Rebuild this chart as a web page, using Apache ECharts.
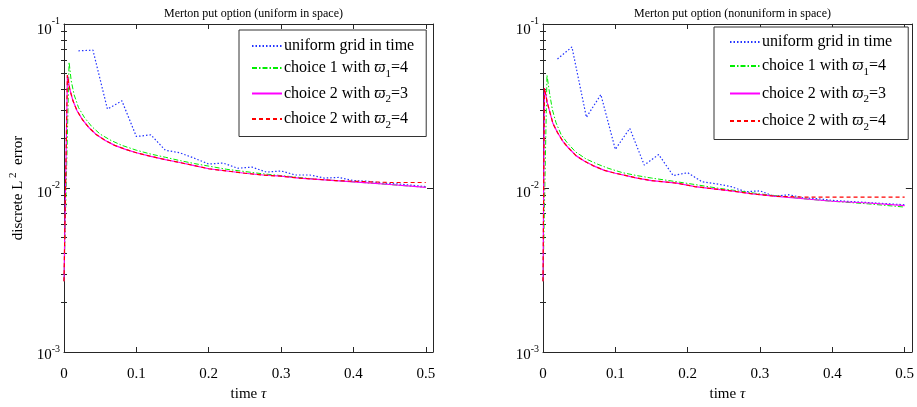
<!DOCTYPE html>
<html><head><meta charset="utf-8">
<script src="https://cdn.jsdelivr.net/npm/echarts@6/dist/echarts.min.js"></script>
<style>html,body{margin:0;padding:0;background:#fff}#c{width:917px;height:407px}</style>
</head><body><div id="c"></div>
<script>
// ---- data (tau, error) ----
const xTicks = [0, 0.1, 0.2, 0.3, 0.4, 0.5];
const yMajor = [0.001, 0.01, 0.1];
const yMinor = [0.002,0.003,0.004,0.005,0.006,0.007,0.008,0.009,0.02,0.03,0.04,0.05,0.06,0.07,0.08,0.09];
const seriesNames = ['uniform grid in time', 'choice 1 with ϖ1=4', 'choice 2 with ϖ2=3', 'choice 2 with ϖ2=4 '];
const titles = ['Merton put option (uniform in space)', 'Merton put option (nonuniform in space)'];

const uniformT = [0.02,0.04,0.06,0.08,0.10,0.12,0.14,0.16,0.18,0.20,0.22,0.24,0.26,0.28,0.30,0.32,0.34,0.36,0.38,0.40,0.42,0.44,0.46,0.48,0.50];
const leftBlue = [0.0686,0.0693,0.0303,0.0340,0.0206,0.0211,0.0170,0.0164,0.0152,0.0140,0.0142,0.0132,0.0134,0.0125,0.0127,0.0120,0.0120,0.0115,0.0116,0.0111,0.0110,0.0107,0.0106,0.0104,0.0102];
const rightBlue = [0.0612,0.0724,0.0270,0.0371,0.0172,0.0231,0.0138,0.0160,0.0119,0.0124,0.0109,0.0106,0.0102,0.0095,0.0096,0.0089,0.0091,0.0087,0.0086,0.0084,0.0083,0.0082,0.0081,0.0080,0.0079];

const leftGreen = [[0,0.0027],[0.007,0.0585],[0.010,0.045],[0.014,0.037],[0.020,0.031],[0.028,0.027],[0.038,0.0238],[0.050,0.0213],[0.065,0.0195],[0.080,0.0182],[0.100,0.0170],[0.120,0.0161],[0.140,0.0154],[0.160,0.0147],[0.180,0.0141],[0.200,0.0136],[0.225,0.0130],[0.250,0.0126],[0.275,0.0122],[0.300,0.0119],[0.325,0.0116],[0.350,0.0113],[0.375,0.0111],[0.400,0.0109],[0.450,0.0105],[0.500,0.0101]];
const leftMagenta = [[0,0.0027],[0.0047,0.0488],[0.008,0.040],[0.0124,0.034],[0.018,0.0296],[0.026,0.0259],[0.035,0.0232],[0.045,0.0211],[0.057,0.0195],[0.070,0.0182],[0.085,0.0172],[0.100,0.0164],[0.120,0.0156],[0.140,0.0149],[0.160,0.0143],[0.180,0.0137],[0.200,0.0131],[0.225,0.0127],[0.250,0.0123],[0.275,0.0120],[0.300,0.0118],[0.325,0.0115],[0.350,0.0113],[0.375,0.0111],[0.400,0.0109],[0.425,0.0107],[0.450,0.0105],[0.475,0.0103],[0.500,0.0101]];
const leftRed = [[0,0.0027],[0.0047,0.0488],[0.008,0.040],[0.0124,0.034],[0.018,0.0296],[0.026,0.0259],[0.035,0.0232],[0.045,0.0211],[0.057,0.0195],[0.070,0.0182],[0.085,0.0172],[0.100,0.0164],[0.120,0.0156],[0.140,0.0149],[0.160,0.0143],[0.180,0.0137],[0.200,0.0131],[0.225,0.0127],[0.250,0.0123],[0.275,0.0120],[0.300,0.0118],[0.325,0.0115],[0.350,0.0113],[0.375,0.0111],[0.400,0.0110],[0.425,0.0109],[0.450,0.0108],[0.475,0.0108],[0.500,0.0108]];

const rightGreen = [[0,0.0027],[0.0055,0.0488],[0.009,0.038],[0.013,0.030],[0.018,0.025],[0.025,0.0212],[0.033,0.0190],[0.045,0.0166],[0.060,0.0150],[0.075,0.0140],[0.090,0.0132],[0.110,0.0124],[0.130,0.0119],[0.150,0.0115],[0.180,0.0110],[0.210,0.0105],[0.240,0.0100],[0.270,0.0096],[0.300,0.0092],[0.330,0.0089],[0.360,0.0086],[0.400,0.0083],[0.450,0.0080],[0.500,0.00765]];
const rightMagenta = [[0,0.0027],[0.002,0.0407],[0.006,0.033],[0.0138,0.0247],[0.020,0.0218],[0.0277,0.0192],[0.035,0.0176],[0.046,0.0157],[0.057,0.0146],[0.069,0.0137],[0.085,0.0128],[0.100,0.0123],[0.115,0.0119],[0.130,0.0115],[0.150,0.0111],[0.185,0.0107],[0.210,0.0102],[0.230,0.00996],[0.260,0.0096],[0.290,0.0092],[0.323,0.0089],[0.360,0.0086],[0.400,0.0083],[0.450,0.0081],[0.500,0.0078]];
const rightRed = [[0,0.0027],[0.002,0.0407],[0.006,0.033],[0.0138,0.0247],[0.020,0.0218],[0.0277,0.0192],[0.035,0.0176],[0.046,0.0157],[0.057,0.0146],[0.069,0.0137],[0.085,0.0128],[0.100,0.0123],[0.115,0.0119],[0.130,0.0115],[0.150,0.0111],[0.185,0.0107],[0.210,0.0102],[0.230,0.00996],[0.260,0.0096],[0.290,0.0092],[0.323,0.0089],[0.360,0.0088],[0.400,0.0088],[0.450,0.0088],[0.500,0.0088]];

// ---- chart ----
const FONT = '"Liberation Serif", "DejaVu Serif", serif';
const AX = '#262626';
const FS = 15;
const chart = echarts.init(document.getElementById('c'), null, {renderer: 'canvas'});

const grids = [
  {left: 64, top: 24, width: 369, height: 338},
  {left: 543, top: 24, width: 369, height: 338}
];

const xAxes = [], yAxes = [], series = [], legends = [], titleArr = [];
const supRich = {
  bt: {fontFamily: FONT, fontSize: FS, color: '#000', padding: [12, 0, 0, 0]},
  bm: {fontFamily: FONT, fontSize: FS, color: '#000', padding: [10, 0, 0, 0]},
  bb: {fontFamily: FONT, fontSize: FS, color: '#000', padding: [7, 0, 0, 0]},
  s: {fontFamily: FONT, fontSize: 10, color: '#000', padding: [0, 0, 5, 0]}
};

grids.forEach((g, gi) => {
  xAxes.push({
    type: 'value', gridIndex: gi, min: 0, max: 0.51, position: 'bottom',
    axisLine: {show: true, onZero: false, lineStyle: {color: AX, width: 1}},
    axisTick: {show: true, inside: true, length: 5, customValues: xTicks, lineStyle: {color: AX}},
    axisLabel: {show: true, customValues: xTicks, margin: 15, fontFamily: FONT, fontSize: FS, color: '#000',
      formatter: v => String(Math.round(v * 10) / 10)},
    splitLine: {show: false},
    name: 'time {i|τ}', nameLocation: 'middle', nameGap: 35,
    nameTextStyle: {fontFamily: FONT, fontSize: FS, color: '#000',
      rich: {i: {fontFamily: FONT, fontSize: FS, fontStyle: 'italic', color: '#000'}}}
  });
  xAxes.push({
    type: 'value', gridIndex: gi, min: 0, max: 0.51, position: 'top',
    axisLine: {show: true, onZero: false, lineStyle: {color: AX, width: 1}},
    axisTick: {show: true, inside: true, length: 5, customValues: xTicks, lineStyle: {color: AX}},
    axisLabel: {show: false}, splitLine: {show: false}
  });
  yAxes.push({
    type: 'log', logBase: 10, gridIndex: gi, min: 0.001, max: 0.1, position: 'left',
    axisLine: {show: true, onZero: false, lineStyle: {color: AX, width: 1}},
    axisTick: {show: true, inside: true, length: 6, customValues: yMajor, lineStyle: {color: AX}},
    axisLabel: {show: true, customValues: yMajor, margin: 4, fontFamily: FONT, fontSize: FS, color: '#000',
      formatter: v => {
        const e = Math.round(Math.log10(v));
        const k = e === -1 ? 'bt' : (e === -2 ? 'bm' : 'bb');
        return '{' + k + '|10}{s|' + e + '}';
      }, rich: supRich},
    splitLine: {show: false},
    name: gi === 0 ? 'discrete L{s| 2}  error' : '', nameLocation: 'middle', nameGap: 36, nameRotate: 90,
    nameTextStyle: {fontFamily: FONT, fontSize: FS, color: '#000', padding: [0, 0, 0, 0],
      rich: {s: {fontFamily: FONT, fontSize: 11, color: '#000', padding: [0, 0, 9, 0]}}}
  });
  yAxes.push({
    type: 'log', logBase: 10, gridIndex: gi, min: 0.001, max: 0.1, position: 'right',
    axisLine: {show: true, onZero: false, lineStyle: {color: AX, width: 1}},
    axisTick: {show: true, inside: true, length: 6, customValues: yMajor, lineStyle: {color: AX}},
    axisLabel: {show: false}, splitLine: {show: false}
  });
  ['left', 'right'].forEach(pos => {
    yAxes.push({
      type: 'log', logBase: 10, gridIndex: gi, min: 0.001, max: 0.1, position: pos,
      axisLine: {show: false},
      axisTick: {show: true, inside: true, length: 3, customValues: yMinor, lineStyle: {color: AX}},
      axisLabel: {show: false}, splitLine: {show: false}
    });
  });

  titleArr.push({
    text: titles[gi], left: g.left + g.width / 2, top: 3, textAlign: 'center',
    textStyle: {fontFamily: FONT, fontSize: 12, fontWeight: 'normal', color: '#000'}
  });

  const xi = gi * 2, yi = gi * 4;
  const blue = gi === 0 ? leftBlue : rightBlue;
  const green = gi === 0 ? leftGreen : rightGreen;
  const mag = gi === 0 ? leftMagenta : rightMagenta;
  const red = gi === 0 ? leftRed : rightRed;
  const common = {type: 'line', xAxisIndex: xi, yAxisIndex: yi, symbol: 'none', showSymbol: false, animation: false, silent: true};
  series.push(Object.assign({}, common, {
    name: seriesNames[0], data: uniformT.map((t, i) => [t, blue[i]]),
    lineStyle: {color: '#2233ff', width: 1.2, type: [1.5, 2]}, itemStyle: {color: '#2233ff'}
  }));
  series.push(Object.assign({}, common, {
    name: seriesNames[1], data: green,
    lineStyle: {color: '#00ee00', width: 1, type: [5, 2, 1.5, 2]}, itemStyle: {color: '#00ee00'}
  }));
  series.push(Object.assign({}, common, {
    name: seriesNames[2], data: mag,
    lineStyle: {color: '#ff00ff', width: 1.2, type: 'solid'}, itemStyle: {color: '#ff00ff'}
  }));
  series.push(Object.assign({}, common, {
    name: seriesNames[3], data: red,
    lineStyle: {color: '#ff0000', width: 1.2, type: [4, 3]}, itemStyle: {color: '#ff0000'}
  }));

  legends.push({
    orient: 'vertical', left: gi === 0 ? 239 : 714, top: gi === 0 ? 30 : 27,
    data: seriesNames, selectedMode: false,
    itemWidth: 30, itemHeight: 12, itemGap: gi === 0 ? 6 : 8,
    padding: gi === 0 ? [8, 12, 6, 12] : [7, 16, 7, 15],
    borderColor: '#333', borderWidth: 1, backgroundColor: '#fff',
    itemStyle: {opacity: 0},
    formatter: name => {
      if (name === seriesNames[0]) return '{n|uniform grid in time}';
      if (name === seriesNames[1]) return '{n|choice 1 with }{v|ϖ}{sub|1}{n|=4}';
      if (name === seriesNames[2]) return '{n|choice 2 with }{v|ϖ}{sub|2}{n|=3}';
      return '{n|choice 2 with }{v|ϖ}{sub|2}{n|=4}';
    },
    textStyle: {
      fontFamily: FONT, fontSize: 16, color: '#000', padding: [0, 0, 0, -3],
      rich: {
        n: {fontFamily: FONT, fontSize: 16, color: '#000'},
        v: {fontFamily: FONT, fontSize: 16, color: '#000', fontStyle: 'italic'},
        sub: {fontFamily: FONT, fontSize: 11, color: '#000', padding: [12, 0, 0, 0]}
      }
    }
  });
});

chart.setOption({
  animation: false,
  backgroundColor: '#fff',
  title: titleArr,
  grid: grids,
  xAxis: xAxes,
  yAxis: yAxes,
  legend: legends,
  series: series
});
</script>
</body></html>
